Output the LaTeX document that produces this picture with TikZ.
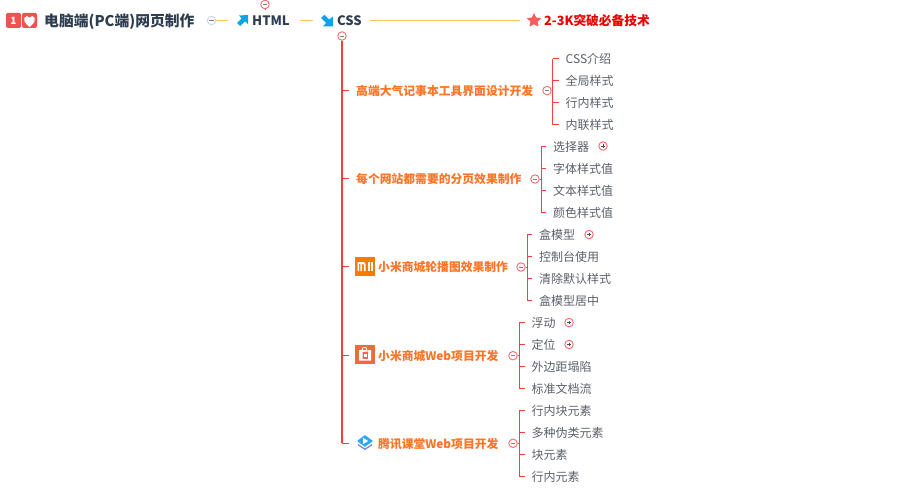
\documentclass[tikz,border=0pt]{standalone}
\usepackage{fontspec}
\setmainfont{Noto Sans CJK SC}
\usetikzlibrary{shapes.geometric}
\definecolor{redline}{HTML}{FA3E3E}
\definecolor{circred}{HTML}{F76C6C}
\definecolor{rootcirc}{HTML}{CBD3EA}
\definecolor{topline}{HTML}{FBC266}
\definecolor{titlec}{HTML}{2F3D50}
\definecolor{orangec}{HTML}{FF7426}
\definecolor{kidc}{HTML}{5A5F68}
\definecolor{arrowblue}{HTML}{0FA3E6}
\definecolor{badge}{HTML}{EF5350}
\definecolor{miorange}{HTML}{F57C00}
\definecolor{bagorange}{HTML}{EE6B3F}
\definecolor{tencentblue}{HTML}{2FA8F0}
\definecolor{tencentlow}{HTML}{6F86EE}
\tikzset{
  x=1pt,y=-1pt,
  lbl/.style={anchor=west,inner sep=0pt,yshift=-0.6pt,font=\fontsize{12}{14}\selectfont},
  kid/.style={lbl,text=kidc},
  branch/.style={lbl,text=orangec,font=\fontsize{11.8}{14}\selectfont\bfseries},
  head/.style={lbl,text=titlec,font=\fontsize{13}{15}\selectfont\bfseries},
  link/.style={draw=redline,line width=0.9pt},
  mainlink/.style={draw=redline,line width=1.4pt},
  toplink/.style={draw=topline,line width=1pt},
  minusc/.style={circle,draw=#1,fill=white,line width=0.9pt,minimum size=8.5pt,inner sep=0pt,
    path picture={\draw[black!50,line width=0.5pt] ([xshift=-2.4pt]path picture bounding box.center) -- ([xshift=2.4pt]path picture bounding box.center);}},
  minusc/.default=circred,
  plusc/.style={circle,draw=circred,fill=white,line width=0.9pt,minimum size=8.5pt,inner sep=0pt,
    path picture={\draw[black!70,line width=0.5pt] ([xshift=-1.8pt]path picture bounding box.center) -- ([xshift=1.8pt]path picture bounding box.center) ([yshift=-1.8pt]path picture bounding box.center) -- ([yshift=1.8pt]path picture bounding box.center);}},
  badgebox/.style={fill=badge,rounded corners=1.5pt,minimum width=15pt,minimum height=15pt,inner sep=0pt},
}
\begin{document}
\begin{tikzpicture}
\useasboundingbox (0,0) rectangle (897,492);
% root
\node[badgebox,text=white,font=\fontsize{10}{10}\selectfont\bfseries] (b1) at (13.5,20.5) {1};
\node[badgebox] (b2) at (29.5,20.5) {};
\fill[white] (29.5,27) .. controls (24.5,23) and (23.5,20.5) .. (24.2,18) .. controls (25,15.6) and (28.5,15.4) .. (29.5,17.6) .. controls (30.5,15.4) and (34,15.6) .. (34.8,18) .. controls (35.5,20.5) and (34.5,23) .. (29.5,27) -- cycle;
\node[lbl,text=titlec,font=\fontsize{14.8}{17}\selectfont\bfseries] (root) at (44,21) {电脑端(PC端)网页制作};
\node[minusc=rootcirc] (rootc) at (211.5,20.5) {};
% HTML
\node[minimum size=11pt,inner sep=0pt] (htmlicon) at (242.5,20.5) {};
\fill[arrowblue] (248,15) -- (248,24) -- (245,21.5) -- (240,26) -- (237,23) -- (241.5,18.5) -- (239,15.5) -- cycle;
\node[head] (html) at (252,20) {HTML};
\node[minusc] (htmlc) at (265,4.5) {};
\coordinate (htmlstem) at (265,9.5);
\draw[link] (htmlc) -- (htmlstem);
% CSS
\node[minimum size=12pt,inner sep=0pt] (cssicon) at (327,20.5) {};
\fill[arrowblue] (333,26.5) -- (323,26.5) -- (326,23) -- (321,18) -- (324.5,14.8) -- (329,19.5) -- (333,16.5) -- cycle;
\node[head] (css) at (337,20.5) {CSS};
\node[minusc] (cssc) at (342,36) {};
% star
\node[star,star points=5,star point ratio=2,fill=redline!85,minimum size=15pt,inner sep=0pt] (staricon) at (534,20.5) {};
\node[lbl,text=red!92!black,font=\fontsize{12.7}{15}\selectfont\bfseries] (skill) at (544,20) {2-3K突破必备技术};
% top connectors
\coordinate (t1) at (228,20.5);
\coordinate (t2a) at (300,20.5);
\coordinate (t2b) at (313,20.5);
\coordinate (t3a) at (370,20.5);
\coordinate (t3b) at (520,20.5);
\draw[toplink] (rootc.east) -- (t1);
\draw[toplink] (t2a) -- (t2b);
\draw[toplink] (t3a) -- (t3b);
% main trunk
\node[branch] (g1) at (356,90) {高端大气记事本工具界面设计开发};
\node[branch] (g2) at (356,178) {每个网站都需要的分页效果制作};
\node[branch] (g3) at (378,266.5) {小米商城轮播图效果制作};
\node[branch] (g4) at (378,355) {小米商城Web项目开发};
\node[branch] (g5) at (378,443) {腾讯课堂Web项目开发};
\coordinate (trunkend) at (342,443.3);
\draw[mainlink] (cssc.south) -- (trunkend);
\foreach \g/\yy/\ee in {1/90/349,2/178/349,3/266.7/349,4/355/349,5/443.3/349}{
  \coordinate (tk\g) at (\ee,\yy);
  \draw[link] (342,\yy) -- (tk\g);
}
% icons
\node[fill=miorange,minimum size=19.5pt,inner sep=0pt] (mi) at (365,266.5) {};
\fill[white] (357.5,262) -- (363,262) .. controls (365,262) and (365.5,263) .. (365.5,264.5) -- (365.5,271) -- (363.8,271) -- (363.8,264.8) .. controls (363.8,264) and (363.3,263.8) .. (362.8,263.8) -- (362,263.8) -- (362,271) -- (360.3,271) -- (360.3,263.8) -- (359.2,263.8) -- (359.2,271) -- (357.5,271) -- cycle;
\fill[white] (368,262) rectangle (369.8,271);
\fill[white] (371,262) rectangle (372.6,271);
\node[fill=bagorange,minimum size=19.5pt,inner sep=0pt] (bag) at (365,354.5) {};
\fill[white] (359,350) -- (366.5,350) -- (366.5,350.5) -- (371,350) -- (371,360.5) -- (359,360.5) -- cycle;
\draw[white,line width=0.8pt] (362,350) .. controls (362,346.5) and (367,346.5) .. (367,350);
\fill[bagorange] (362.5,352) -- (367.8,351.6) -- (367.8,358.8) -- (362.5,358.8) -- cycle;
\fill[white] (364,354) rectangle (366.6,357);
\node[diamond,fill=tencentblue,minimum width=16pt,minimum height=12pt,inner sep=0pt] (tencent) at (365,441) {};
\fill[tencentlow] (358,444) -- (365,448.5) -- (372,444) -- (372,445.5) -- (365,450) -- (358,445.5) -- cycle;
\fill[white] (363.2,438) -- (368.2,441) -- (363.2,444) -- cycle;
% groups
\newcommand{\grp}[4]{% id, circle x, circle y, bracket x
  \node[minusc] (c#1) at (#2,#3) {};
  \coordinate (j#1) at (#4,#3);
  \draw[link] (c#1.east) -- (j#1);
}
\grp{1}{547}{90.6}{552.5}
\grp{2}{535}{179}{541}
\grp{3}{521}{267}{527}
\grp{4}{513}{355.7}{519}
\grp{5}{513}{443.3}{519}
\node[kid] (k11) at (565.5,58) {CSS介绍};
\node[kid] (k12) at (565.5,80) {全局样式};
\node[kid] (k13) at (565.5,102) {行内样式};
\node[kid] (k14) at (565.5,124) {内联样式};
\node[kid] (k21) at (553,146) {选择器};
\node[kid] (k22) at (553,168) {字体样式值};
\node[kid] (k23) at (553,190) {文本样式值};
\node[kid] (k24) at (553,212) {颜色样式值};
\node[kid] (k31) at (539,234) {盒模型};
\node[kid] (k32) at (539,256) {控制台使用};
\node[kid] (k33) at (539,278) {清除默认样式};
\node[kid] (k34) at (539,300) {盒模型居中};
\node[kid] (k41) at (531.5,322) {浮动};
\node[kid] (k42) at (531.5,344) {定位};
\node[kid] (k43) at (531.5,366) {外边距塌陷};
\node[kid] (k44) at (531.5,388) {标准文档流};
\node[kid] (k51) at (531.5,410) {行内块元素};
\node[kid] (k52) at (531.5,432) {多种伪类元素};
\node[kid] (k53) at (531.5,454) {块元素};
\node[kid] (k54) at (531.5,476) {行内元素};
\node[plusc] (p21) at (603,146) {};
\node[plusc] (p31) at (589,234.5) {};
\node[plusc] (p41) at (569,322.5) {};
\node[plusc] (p42) at (569,344.5) {};
\foreach \g in {1,2,3,4,5}{
  \draw[link,yshift=0.6pt] (j\g |- k\g1.west) -- (j\g |- k\g4.west);
  \foreach \k in {1,2,3,4}{
    \draw[link,yshift=0.6pt,shorten >=7pt] (j\g |- k\g\k.west) -- (k\g\k.west);
  }
}
\end{tikzpicture}
\end{document}
